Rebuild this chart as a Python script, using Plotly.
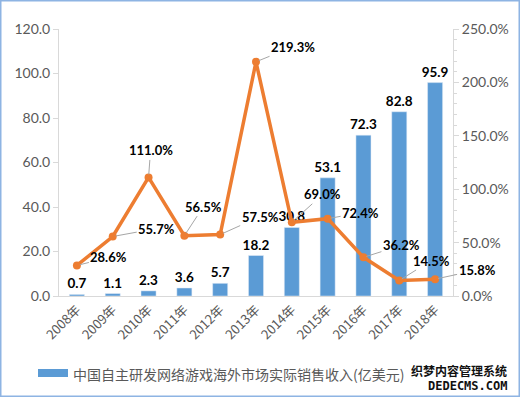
import plotly.graph_objects as go

years = ["2008年", "2009年", "2010年", "2011年", "2012年", "2013年",
         "2014年", "2015年", "2016年", "2017年", "2018年"]
revenue = [0.7, 1.1, 2.3, 3.6, 5.7, 18.2, 30.8, 53.1, 72.3, 82.8, 95.9]
growth = [28.6, 55.7, 111.0, 56.5, 57.5, 219.3, 69.0, 72.4, 36.2, 14.5, 15.8]
series_name = "中国自主研发网络游戏海外市场实际销售收入(亿美元)"

# label offsets (pixels) for growth labels: style only
label_dx = [32, 44, 2, 19, 40, 37, 31, 33, 38, 32, 42]
label_dy = [-8, -8, -27, -29, -18, -15, -28, -6, -12, -20, -9]

NUM_FONT = "Lato, 'Noto Sans CJK SC', sans-serif"
CJK_FONT = "'Noto Sans CJK SC', 'Noto Sans', sans-serif"
BAR_C = "#5B9BD5"
LINE_C = "#ED7D31"
AX_C = "#595959"

fig = go.Figure()
fig.add_trace(go.Bar(
    x=years, y=revenue, name=series_name,
    marker_color=BAR_C,
    text=[f"{v:.1f}" for v in revenue], textposition="outside",
    textfont=dict(family=NUM_FONT, size=13.5, color="#000000"),
    texttemplate="<b>%{text}</b>", constraintext="none",
    cliponaxis=False, showlegend=False,
))
fig.add_trace(go.Scatter(
    x=years, y=growth, yaxis="y2", mode="lines+markers",
    line=dict(color=LINE_C, width=3.5),
    marker=dict(color=LINE_C, size=8),
    showlegend=False, cliponaxis=False,
))

L, R, T, B = 59, 67, 29, 101
W, H = 520, 397
pw, ph = W - L - R, H - T - B

def px2x(px):
    return (px - L) / pw

def py2y(py):
    return (H - B - py) / ph

annotations = []
for yr, g, dx, dy in zip(years, growth, label_dx, label_dy):
    annotations.append(dict(
        x=yr, y=g, xref="x", yref="y2",
        text=f"<b>{g:.1f}%</b>", showarrow=True, arrowhead=0,
        arrowwidth=1, arrowcolor="#A6A6A6", ax=dx, ay=dy, standoff=3,
        font=dict(family=NUM_FONT, size=13, color="#000000"),
    ))

annotations.append(dict(
    x=px2x(71), y=py2y(374), xref="paper", yref="paper",
    xanchor="left", yanchor="middle", showarrow=False,
    text=series_name, font=dict(family=CJK_FONT, size=14, color=AX_C),
))
annotations.append(dict(
    x=px2x(509), y=py2y(370), xref="paper", yref="paper",
    xanchor="right", yanchor="middle", showarrow=False,
    text="<b>织梦内容管理系统</b>", font=dict(family=CJK_FONT, size=12, color="#111111"),
))
annotations.append(dict(
    x=px2x(509), y=py2y(386), xref="paper", yref="paper",
    xanchor="right", yanchor="middle", showarrow=False,
    text="<b>DEDECMS.COM</b>", font=dict(family="DejaVu Sans Mono, monospace", size=12, color="#111111"),
))

shapes = [
    dict(type="rect", xref="paper", yref="paper",
         x0=px2x(38), x1=px2x(68), y0=py2y(377), y1=py2y(369),
         fillcolor=BAR_C, line=dict(width=0)),
    dict(type="rect", xref="paper", yref="paper",
         x0=px2x(0.75), x1=px2x(519.25), y0=py2y(0.75), y1=py2y(396.25),
         line=dict(color="#8EB4E3", width=1.5)),
]

fig.update_layout(
    width=W, height=H,
    margin=dict(l=L, r=R, t=T, b=B, autoexpand=False),
    paper_bgcolor="white", plot_bgcolor="white",
    bargap=0.58,
    annotations=annotations, shapes=shapes,
    xaxis=dict(
        type="category", tickangle=-45, automargin=False,
        range=[-0.5, len(years) - 0.5], autorange=False,
        tickfont=dict(family=CJK_FONT, size=13, color=AX_C),
        showline=True, linecolor="#D9D9D9", linewidth=1,
        ticks="", showgrid=False,
    ),
    yaxis=dict(
        range=[0, 120], dtick=20, tickformat=".1f", automargin=False,
        tickfont=dict(family=NUM_FONT, size=14, color=AX_C),
        showline=True, linecolor="#D9D9D9", linewidth=1,
        ticks="outside", ticklen=5, tickcolor="#D9D9D9",
        showgrid=False, zeroline=False,
    ),
    yaxis2=dict(
        overlaying="y", side="right", automargin=False,
        range=[0, 250], dtick=50, tickformat=".1f", ticksuffix="%",
        tickfont=dict(family=NUM_FONT, size=14, color=AX_C),
        showline=True, linecolor="#D9D9D9", linewidth=1,
        ticks="outside", ticklen=5, tickcolor="#D9D9D9",
        minor=dict(dtick=10, ticks="outside", ticklen=3, tickcolor="#D9D9D9"),
        showgrid=False, zeroline=False,
    ),
)

fig.write_html(
    "out.html",
    config={"displayModeBar": False},
    post_script="document.body.style.margin='0';document.body.style.overflow='hidden';",
)
